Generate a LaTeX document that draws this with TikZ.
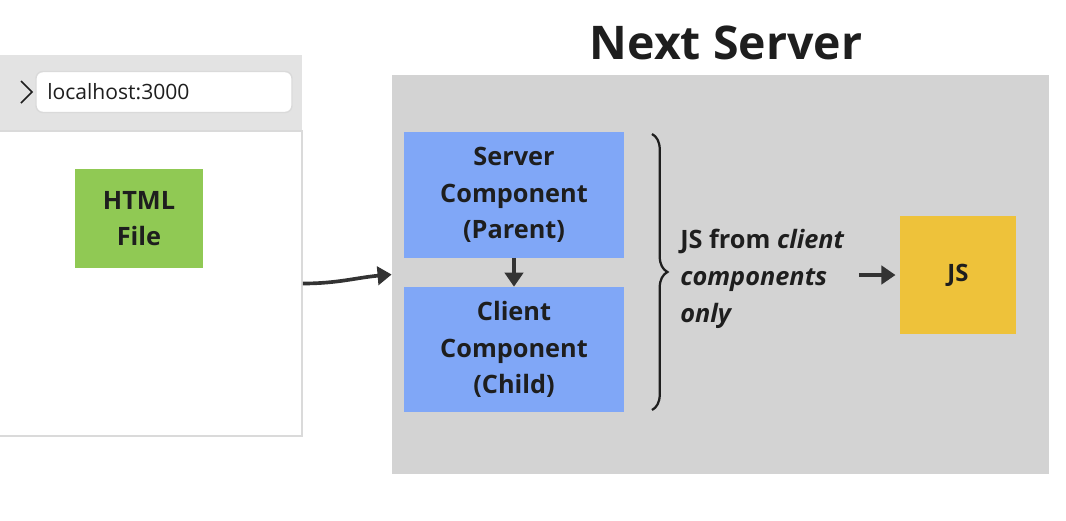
\documentclass[tikz,border=0pt]{standalone}
\usepackage{fontspec}
\setmainfont{Open Sans}
\usetikzlibrary{arrows.meta,decorations.pathreplacing}
\definecolor{panelgray}{HTML}{D3D3D3}
\definecolor{bargray}{HTML}{E3E3E3}
\definecolor{edgegray}{HTML}{DADADA}
\definecolor{htmlgreen}{HTML}{90C954}
\definecolor{compblue}{HTML}{80A7F7}
\definecolor{jsyellow}{HTML}{EEC23A}
\definecolor{inkdark}{HTML}{1E1E1E}
\definecolor{arrowdark}{HTML}{333333}
\begin{document}
\begin{tikzpicture}[x=0.025cm, y=-0.025cm,
        box/.style={inner sep=0pt, align=center, text=inkdark, font=\bfseries\fontsize{18}{26}\selectfont},
        arr/.style={-{Triangle[length=10pt,width=13pt]}, line width=2.6pt, draw=arrowdark}]
        \useasboundingbox[fill=white] (0, 0) rectangle (1066, 520);
        % browser window
        \node[fill=bargray, minimum width=7.675cm, minimum height=1.9cm, inner sep=0pt] (bar) at (148.5, 93) {};
        \node[fill=white, draw=edgegray, line width=1.2pt, minimum width=7.675cm, minimum height=7.625cm, inner sep=0pt] (browser) at (148.5, 283.5) {};
        \draw[line width=1.1pt, draw=inkdark] (21, 81) -- (32, 92) -- (21, 103);
        \node[fill=white, draw=edgegray, line width=1pt, rounded corners=5pt, minimum width=6.4cm, minimum height=1.025cm] (address) at (164, 92) {};
        \node[anchor=west, inner sep=0pt, text=inkdark, font=\fontsize{15}{17}\selectfont] (url) at (47, 92) {localhost:3000};
        \node[box, fill=htmlgreen, minimum width=3.2cm, minimum height=2.475cm] (html) at (139, 218.5) {HTML\\File};
        % next server
        \node[fill=panelgray, minimum width=16.425cm, minimum height=9.975cm, inner sep=0pt] (panel) at (720.5, 274.5) {};
        \node[text=inkdark, inner sep=0pt, font=\bfseries\fontsize{33}{36}\selectfont] (title) at (726, 43) {Next Server};
        \node[box, fill=compblue, minimum width=5.5cm, minimum height=3.125cm] (parent) at (514, 195) {Server\\Component\\(Parent)};
        \node[box, fill=compblue, minimum width=5.5cm, minimum height=3.125cm] (child) at (514, 349.5) {Client\\Component\\(Child)};
        \node[box, fill=jsyellow, minimum width=2.9cm, minimum height=2.95cm, font=\bfseries\fontsize{17}{26}\selectfont] (js) at (958, 275) {JS};
        \coordinate (bracetop) at (652, 134);
        \coordinate (bracebot) at (652, 410);
        \node[anchor=west, align=left, inner sep=0pt, text=inkdark, font=\bfseries\fontsize{18}{26.5}\selectfont] (jsfrom) at (680, 279) {JS from \textit{client}\\\textit{components}\\\textit{only}};
        \draw[line width=1.6pt, draw=inkdark, decorate, decoration={brace, amplitude=11pt}] (bracetop) -- (bracebot);
        \draw[arr] (browser.east) to[out=0, in=185] (panel.west);
        \draw[arr] (parent.south) -- (child.north);
        \draw[arr, shorten <=10pt, shorten >=3pt] (jsfrom.east |- js.west) -- (js.west);
    \end{tikzpicture}
\end{document}
